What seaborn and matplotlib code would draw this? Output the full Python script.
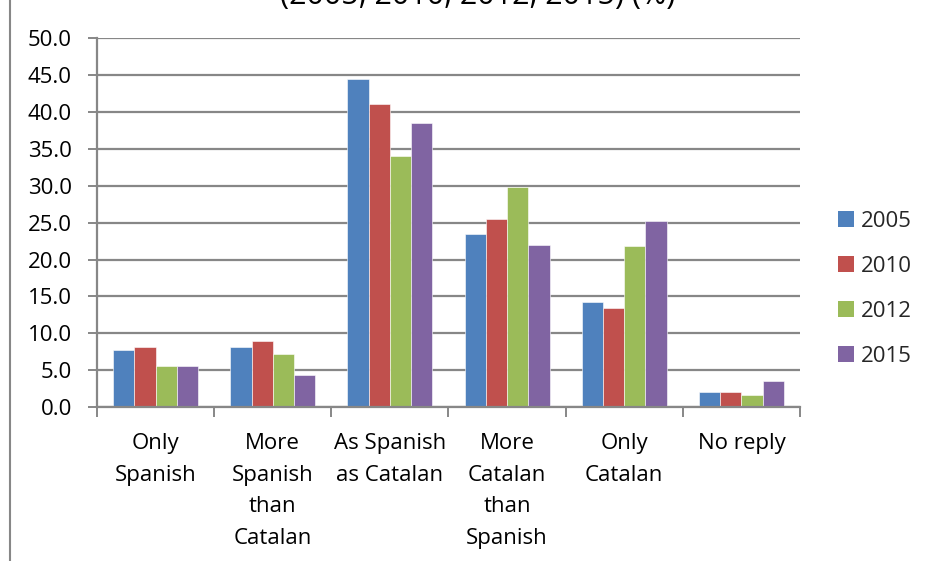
import matplotlib
matplotlib.use("Agg")
import matplotlib.pyplot as plt
from matplotlib.patches import Rectangle, Patch
from matplotlib.ticker import FixedLocator, FormatStrFormatter
import pandas as pd
import seaborn as sns

# Feeling of identity, share of respondents per answer and survey year (%)
categories = ["Only\nSpanish", "More\nSpanish\nthan\nCatalan", "As Spanish\nas Catalan",
              "More\nCatalan\nthan\nSpanish", "Only\nCatalan", "No reply"]
years = ["2005", "2010", "2012", "2015"]
values_2005 = [7.7, 8.2, 44.5, 23.4, 14.2, 2.1]
values_2010 = [8.2, 9.0, 41.1, 25.5, 13.4, 2.1]
values_2012 = [5.5, 7.2, 34.1, 29.8, 21.8, 1.6]
values_2015 = [5.5, 4.3, 38.5, 22.0, 25.2, 3.5]
colors = ["#4F81BD", "#C0504D", "#9BBB59", "#8064A2"]
title_text = "(2005, 2010, 2012, 2015) (%)"

df = pd.DataFrame({
    "category": categories * 4,
    "year": [y for y in years for _ in categories],
    "value": values_2005 + values_2010 + values_2012 + values_2015,
})

sns.set_theme(style="white")
plt.rcParams["font.family"] = ["Open Sans", "DejaVu Sans"]

fig = plt.figure(figsize=(9.3, 5.61), dpi=100)
ax = fig.add_axes([97 / 930, 1 - 407 / 561, 703 / 930, (407 - 38.3) / 561])

sns.barplot(data=df, x="category", y="value", hue="year", order=categories,
            hue_order=years, palette=colors, width=0.725, gap=0,
            edgecolor="white", linewidth=0.4, saturation=1, ax=ax, legend=False)

grid_color = "#878787"
ax.set_xlim(-0.5, len(categories) - 0.5)
ax.set_ylim(0, 50)
ax.yaxis.set_major_locator(FixedLocator([i * 5 for i in range(11)]))
ax.yaxis.set_major_formatter(FormatStrFormatter("%.1f"))
ax.grid(axis="y", color=grid_color, linewidth=1.6)
ax.set_axisbelow(True)
ax.set_xlabel("")
ax.set_ylabel("")

for side in ("top", "right"):
    ax.spines[side].set_visible(False)
for side in ("left", "bottom"):
    ax.spines[side].set_color(grid_color)
    ax.spines[side].set_linewidth(1.6)

ax.tick_params(axis="y", which="major", direction="out", length=6.5, width=1.4,
               color=grid_color, pad=11.5, labelsize=16, labelcolor="black", left=True)
ax.tick_params(axis="x", which="major", length=0, pad=18.5, labelsize=16, labelcolor="black")
ax.set_xticks(range(len(categories)))
ax.set_xticklabels(categories, linespacing=1.68, va="top")
ax.xaxis.set_minor_locator(FixedLocator([i - 0.5 for i in range(len(categories) + 1)]))
ax.tick_params(axis="x", which="minor", direction="out", length=7, width=1.4,
               color=grid_color, bottom=True)

handles = [Patch(facecolor=c, edgecolor="none") for c in colors]
fig.legend(handles, years, loc="center left", bbox_to_anchor=(838 / 930, 1 - 289 / 561),
           frameon=False, fontsize=16, handlelength=0.72, handleheight=0.72,
           handletextpad=0.32, labelspacing=1.08, borderaxespad=0, borderpad=0)

# Outer chart frame, cropped at the right and bottom edges
fig.patches.append(Rectangle((10 / 930, -0.2), 1.2, 1.2 + (1 - 10.5 / 561),
                             transform=fig.transFigure, fill=False,
                             edgecolor=grid_color, linewidth=1.5))

fig.text(478 / 930, 1 - 4 / 561, title_text, ha="center", va="baseline",
         fontsize=22, color="black")

fig.savefig("out.png", dpi=100)
